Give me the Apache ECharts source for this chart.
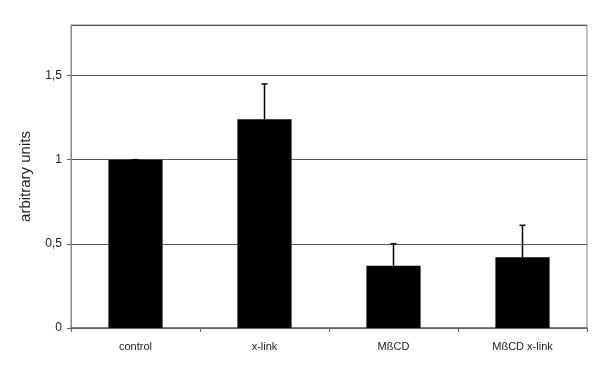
<!DOCTYPE html>
<html>
<head>
<meta charset="utf-8">
<script src="https://cdn.jsdelivr.net/npm/echarts@6/dist/echarts.min.js"></script>
<style>
  html, body { margin: 0; padding: 0; background: #fff; }
  #main { width: 600px; height: 373px; }
</style>
</head>
<body>
<div id="main"></div>
<script>
var categories = ['control', 'x-link', 'MßCD', 'MßCD x-link'];
var means = [1.0, 1.24, 0.37, 0.42];
var errTop = [1.0, 1.45, 0.50, 0.61];
var yTicks = [0, 0.5, 1, 1.5];

var chart = echarts.init(document.getElementById('main'));

// error bars: upward whisker with small cap
function renderErr(params, api) {
    var idx = api.value(0);
    var p0 = api.coord([idx, api.value(1)]);
    var p1 = api.coord([idx, api.value(2)]);
    var cap = 3;
    var st = { stroke: '#000', lineWidth: 1.5 };
    return {
        type: 'group',
        children: [
            { type: 'line', shape: { x1: p0[0], y1: p0[1], x2: p1[0], y2: p1[1] }, style: st },
            { type: 'line', shape: { x1: p1[0] - cap, y1: p1[1], x2: p1[0] + cap, y2: p1[1] }, style: st }
        ]
    };
}

var errData = categories.map(function (c, i) { return [i, means[i], errTop[i]]; });

var option = {
    animation: false,
    backgroundColor: '#fff',
    textStyle: { fontFamily: 'Liberation Sans, Arial, sans-serif' },
    grid: { left: 71, right: 13, top: 25, bottom: 45, show: true, borderColor: '#888', borderWidth: 1 },
    xAxis: {
        type: 'category',
        data: categories,
        axisLine: { lineStyle: { color: '#666', width: 1.5 } },
        axisTick: { show: true, length: 4, lineStyle: { color: '#666' } },
        axisLabel: { color: '#222', fontSize: 11, margin: 13 }
    },
    yAxis: {
        type: 'value',
        min: 0,
        max: 1.8,
        interval: 0.5,
        name: 'arbitrary units',
        nameLocation: 'middle',
        nameGap: 38,
        nameTextStyle: { color: '#222', fontSize: 15 },
        axisLine: { show: true, lineStyle: { color: '#888' } },
        axisTick: { show: true, length: 4, lineStyle: { color: '#666' } },
        axisLabel: {
            color: '#222', fontSize: 12, margin: 9,
            showMaxLabel: false,
            formatter: function (v) {
                if (yTicks.indexOf(v) < 0) return '';
                return String(v).replace('.', ',');
            }
        },
        splitLine: { show: true, lineStyle: { color: '#555', width: 1 } }
    },
    series: [
        {
            type: 'bar',
            data: means,
            barWidth: '42%',
            itemStyle: { color: '#000' },
            z: 2
        },
        {
            type: 'custom',
            renderItem: renderErr,
            data: errData,
            encode: { x: 0, y: [1, 2] },
            z: 3
        }
    ]
};

chart.setOption(option);
</script>
</body>
</html>
